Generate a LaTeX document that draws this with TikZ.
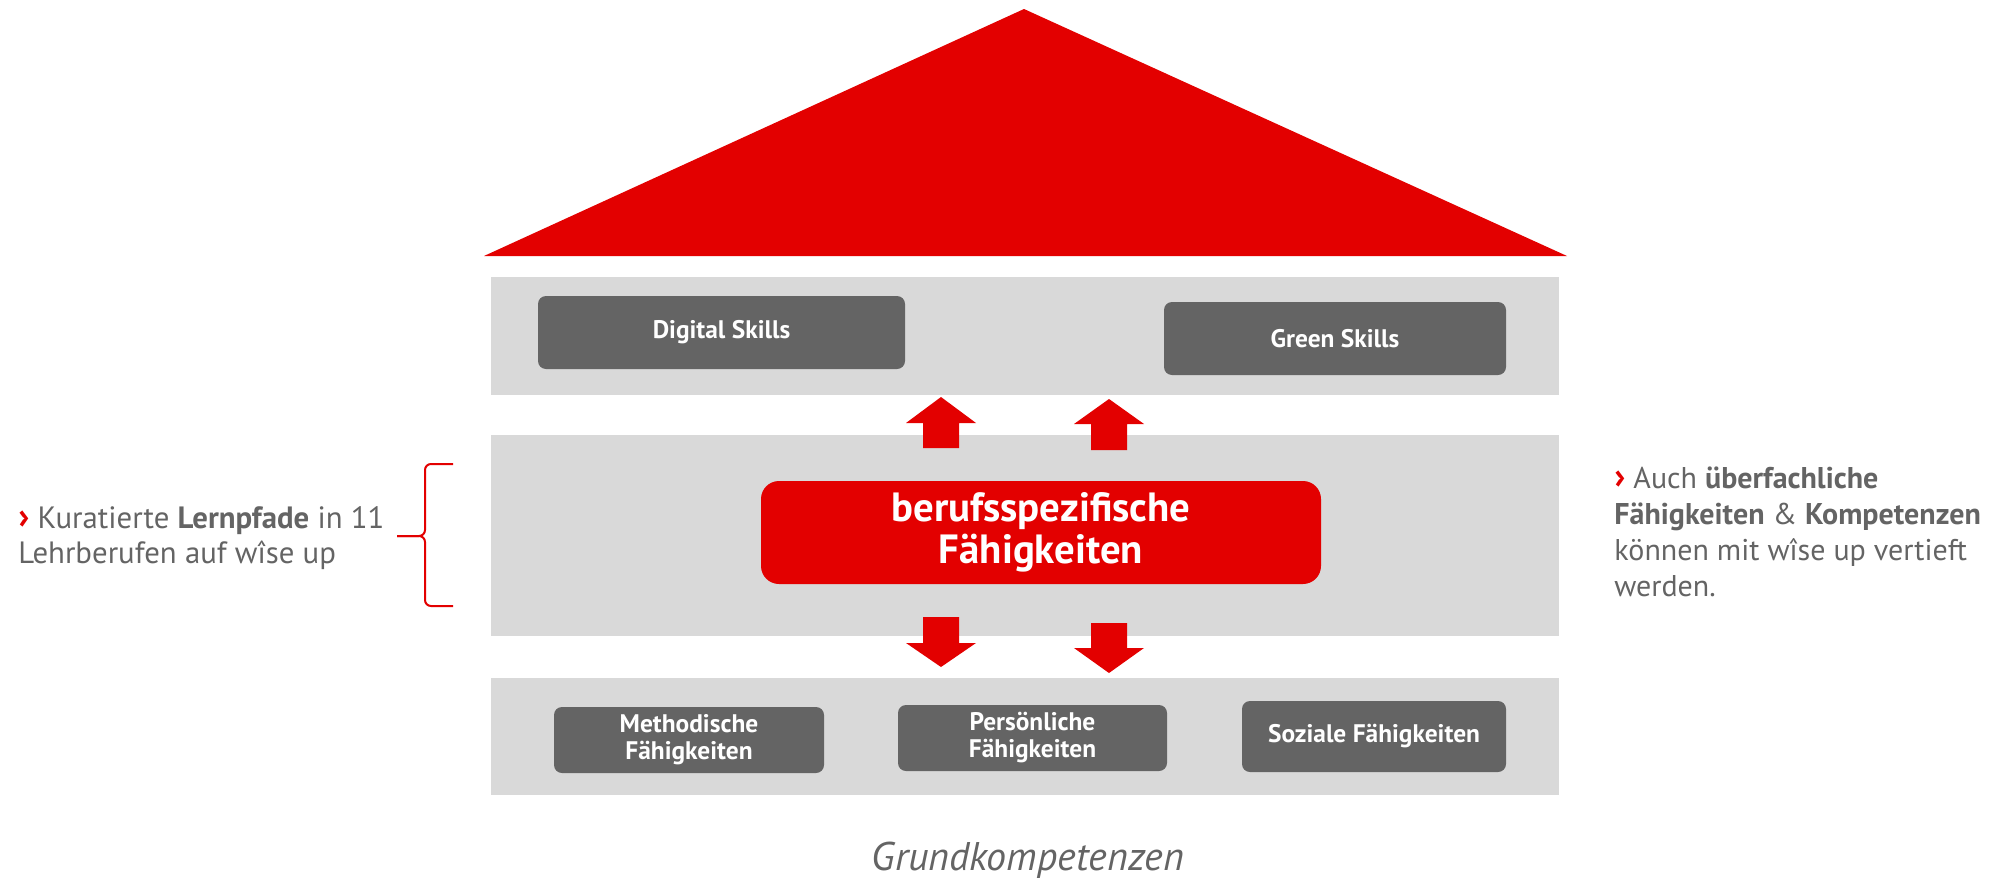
\documentclass[tikz,border=0pt]{standalone}
\usepackage{fontspec}
\setmainfont{PT Sans}
\usepackage{xcolor}
\usepackage{tikz}

\definecolor{wiseRed}{RGB}{227,0,0}
\definecolor{bandGray}{RGB}{217,217,217}
\definecolor{boxGray}{RGB}{100,100,100}
\definecolor{textGray}{RGB}{100,100,100}

\tikzset{
	band/.style={fill=bandGray, draw=none},
	skillbox/.style={fill=boxGray, draw=none, rounded corners=4pt, text=white, inner sep=0pt,
		align=center, font=\bfseries\fontsize{12.7}{13.5}\selectfont},
	corebox/.style={fill=wiseRed, draw=none, rounded corners=9pt, text=white, inner sep=0pt,
		align=center, font=\bfseries\fontsize{20.4}{21}\selectfont},
	blockarrow/.style={fill=wiseRed, draw=none},
	sidetext/.style={text=textGray, inner sep=0pt, anchor=base west, align=left},
}
\newcommand{\redchevron}{\textcolor{wiseRed}{\fontsize{18}{18}\selectfont\textbf{›}}}

\begin{document}
\begin{tikzpicture}[x=0.5pt, y=-0.5pt]
	\useasboundingbox (0,0) rectangle (1999,884);
	% roof
	\fill[wiseRed] (1024,9) -- (1567,256) -- (484,256) -- cycle;
	% three bands
	\fill[band] (491,277) rectangle (1559,395);
	\fill[band] (491,435) rectangle (1559,636);
	\fill[band] (491,678) rectangle (1559,795);
	% upper skills
	\node[skillbox, minimum width=183.5pt, minimum height=36.5pt] (digital) at (721.5,332.5) {Digital Skills};
	\node[skillbox, minimum width=171pt, minimum height=36.5pt] (green) at (1335,338.5) {Green Skills};
	% core
	\node[corebox, minimum width=280pt, minimum height=51.5pt] (core) at (1041,532.5) {berufsspezifische\\F\"ahigkeiten};
	% lower skills
	\node[skillbox, minimum width=135pt, minimum height=33pt] (method) at (689,740) {Methodische\\F\"ahigkeiten};
	\node[skillbox, minimum width=134.5pt, minimum height=33pt] (person) at (1032.5,738) {Pers\"onliche\\F\"ahigkeiten};
	\node[skillbox, minimum width=132pt, minimum height=35.5pt] (social) at (1374,736.5) {Soziale F\"ahigkeiten};
	% arrows up
	\fill[blockarrow] (941,397) -- (976,423) -- (959,423) -- (959,448) -- (923,448) -- (923,423) -- (906,423) -- cycle;
	\fill[blockarrow] (1109,399) -- (1144,424) -- (1127,424) -- (1127,450) -- (1091,450) -- (1091,424) -- (1074,424) -- cycle;
	% arrows down
	\fill[blockarrow] (941,667) -- (976,643) -- (959,643) -- (959,617) -- (923,617) -- (923,643) -- (906,643) -- cycle;
	\fill[blockarrow] (1109,673) -- (1144,648) -- (1127,648) -- (1127,623) -- (1091,623) -- (1091,648) -- (1074,648) -- cycle;
	% brace
	\draw[wiseRed, line width=1pt, rounded corners=3pt] (453,464) -| (425,536) -- (397,536);
	\draw[wiseRed, line width=1pt, rounded corners=3pt] (453,606) -| (425,536) -- (397,536);
	% side texts
	\node[sidetext, font=\fontsize{15.4}{17.5}\selectfont] (lernpfade) at (18,563)
		{\redchevron\ Kuratierte \textbf{Lernpfade} in 11\\Lehrberufen auf w\^ise up};
	\node[sidetext, font=\fontsize{15}{18}\selectfont] (ueberfach) at (1614,596)
		{\redchevron\ Auch \textbf{\"uberfachliche}\\\textbf{F\"ahigkeiten} \& \textbf{Kompetenzen}\\k\"onnen mit w\^ise up vertieft\\werden.};
	% base label
	\node[text=textGray, inner sep=0pt, anchor=base, font=\itshape\fontsize{20}{22}\selectfont] (grund) at (1028,870) {Grundkompetenzen};
\end{tikzpicture}
\end{document}
